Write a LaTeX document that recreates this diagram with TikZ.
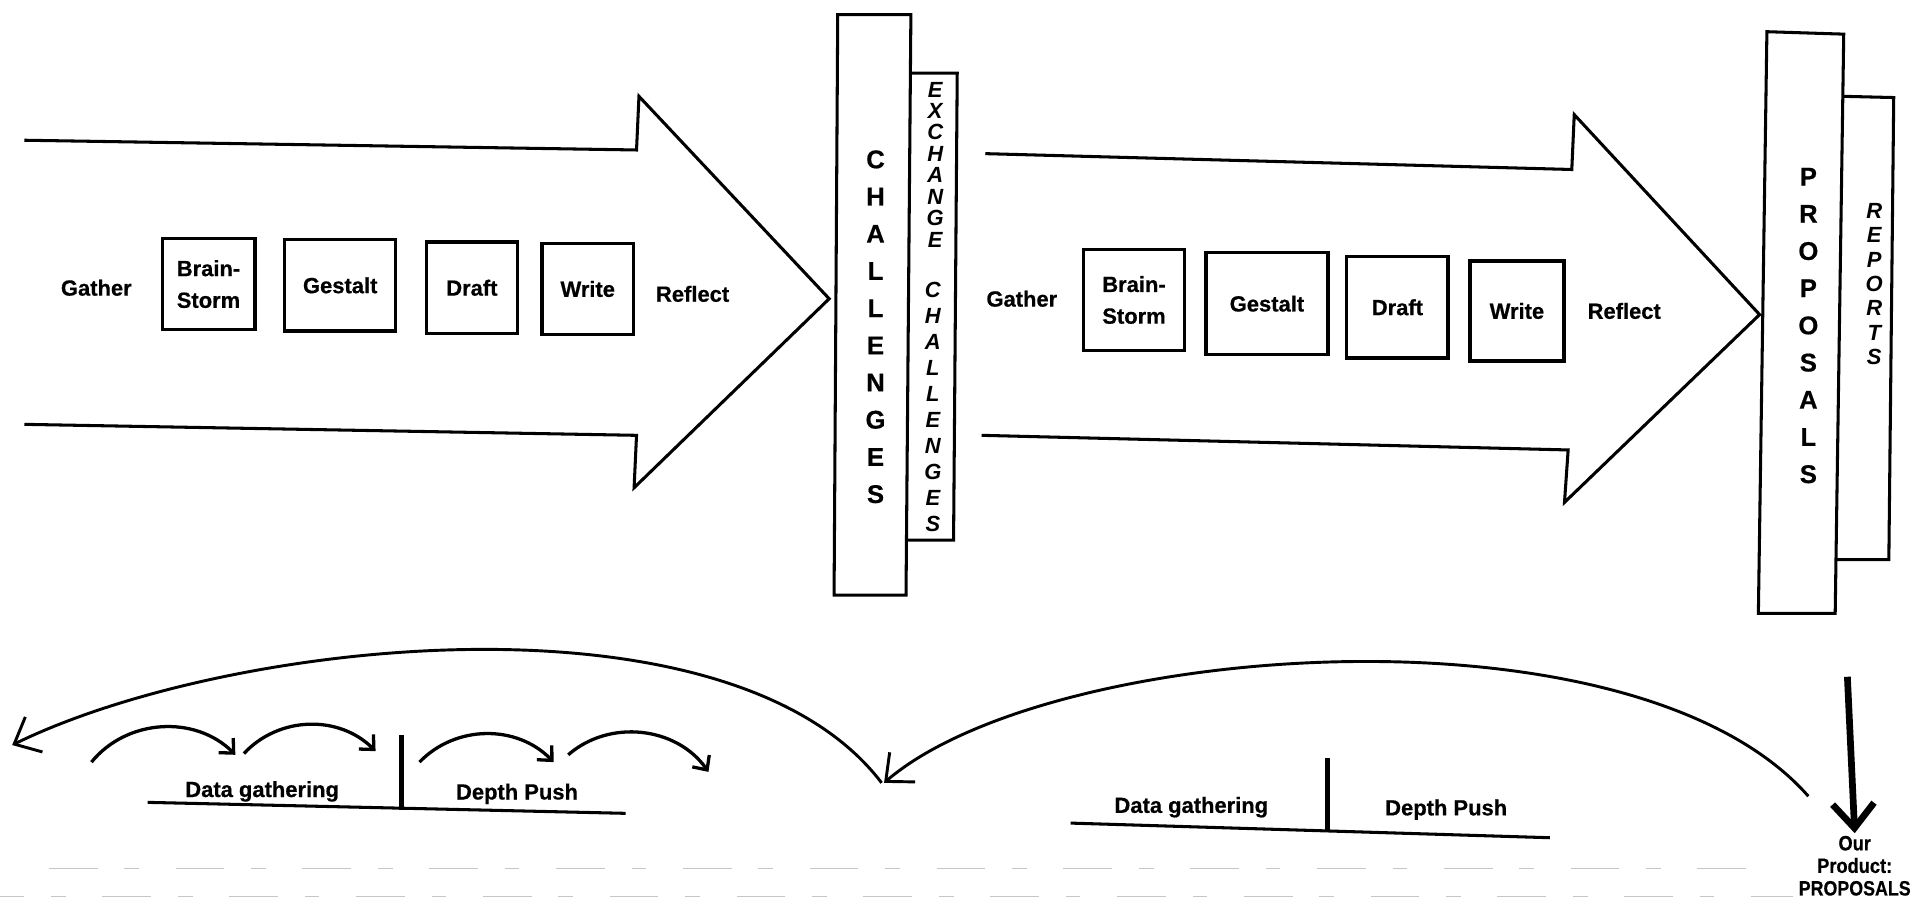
\documentclass[tikz,border=0pt]{standalone}
\usepackage{graphicx}
\usepackage{fontspec}
\setmainfont{Liberation Sans}[BoldFeatures={FakeBold=0.6}]
\usetikzlibrary{arrows.meta}
\newcommand\lblfont{\bfseries\fontsize{18}{26}\selectfont}
\newcommand\colfont{\bfseries\fontsize{21}{30.5}\selectfont}
\begin{document}
\begin{tikzpicture}[x=1pt,y=-1pt,
  outl/.style={line width=2.5pt, line join=miter},
  stage/.style={draw, line width=2.7pt, inner sep=0pt, font=\lblfont, align=center},
  lbl/.style={font=\lblfont, inner sep=0pt},
  vlet/.style={font=\colfont, align=center, inner sep=0pt},
  vit/.style={align=center, inner sep=0pt},
  bigarc/.style={line width=2.4pt, -{Straight Barb[length=18pt,width=32pt]}},
  smallarc/.style={line width=2.7pt, -{Straight Barb[length=9pt,width=17pt]}},
  base/.style={line width=2.5pt},
  bar/.style={line width=4.2pt},
  scan/.style={gray!45, line width=0.9pt, dash pattern=on 40pt off 22pt on 12pt off 30pt}
]
\useasboundingbox (0,0) rectangle (1568,741);

% ---------- left big arrow ----------
\draw[outl] (20,115) -- (522,123) -- (524,79) -- (680,245) -- (520,400) -- (522,357) -- (20,348);
\node[lbl] (g1) at (79,236) {Gather};
\node[stage, minimum width=76pt, minimum height=75pt] (bs1) at (171,233) {Brain-\\Storm};
\node[stage, minimum width=91pt, minimum height=75pt] (ge1) at (279,234) {Gestalt};
\node[stage, minimum width=75pt, minimum height=75pt] (dr1) at (387,236) {Draft};
\node[stage, minimum width=75pt, minimum height=75pt] (wr1) at (482,237) {Write};
\node[lbl] (rf1) at (568,241) {Reflect};

% ---------- CHALLENGES column ----------
\draw[outl] (687,12) -- (747,12) -- (743,488) -- (684,488) -- cycle;
\draw[outl] (746,60) -- (785,60) -- (782,443) -- (744,443);
\node[vlet] (chal) at (718,268) {C\\H\\A\\L\\L\\E\\N\\G\\E\\S};
\node[vit, font=\bfseries\itshape\fontsize{18}{17.6}\selectfont] (exch) at (767,135) {E\\X\\C\\H\\A\\N\\G\\E};
\node[vit, font=\bfseries\itshape\fontsize{18}{21.3}\selectfont] (exchal) at (765,334) {C\\H\\A\\L\\L\\E\\N\\G\\E\\S};

% ---------- right big arrow ----------
\draw[outl] (808,126) -- (1289,139) -- (1291,94) -- (1443,258) -- (1283,412) -- (1286,369) -- (805,357);
\node[lbl] (g2) at (838,245) {Gather};
\node[stage, minimum width=83pt, minimum height=83pt] (bs2) at (930,246) {Brain-\\Storm};
\node[stage, minimum width=100pt, minimum height=84pt] (ge2) at (1039,249) {Gestalt};
\node[stage, minimum width=83pt, minimum height=83pt] (dr2) at (1146,252) {Draft};
\node[stage, minimum width=77pt, minimum height=82pt] (wr2) at (1244,255) {Write};
\node[lbl] (rf2) at (1332,255) {Reflect};

% ---------- PROPOSALS column ----------
\draw[outl] (1449,26) -- (1512,28) -- (1505,503) -- (1442,503) -- cycle;
\draw[outl] (1512,79) -- (1553,80) -- (1549,459) -- (1506,459);
\node[vlet] (prop) at (1483,267) {P\\R\\O\\P\\O\\S\\A\\L\\S};
\node[vit, font=\bfseries\itshape\fontsize{18}{20}\selectfont] (rep) at (1537,233) {R\\E\\P\\O\\R\\T\\S};

% ---------- bottom left ----------
\coordinate (la0) at (723,642);
\coordinate (la1) at (10,611);
\draw[bigarc] (la0) .. controls (600,480) and (190,523) .. (la1);
\coordinate (s1a) at (75,625);  \coordinate (s1b) at (193,619);
\coordinate (s2a) at (200,618); \coordinate (s2b) at (308,616);
\coordinate (s3a) at (344,625); \coordinate (s3b) at (454,625);
\coordinate (s4a) at (466,619); \coordinate (s4b) at (581,633);
\draw[smallarc] (s1a) to[bend left=48] (s1b);
\draw[smallarc] (s2a) to[bend left=46] (s2b);
\draw[smallarc] (s3a) to[bend left=46] (s3b);
\draw[smallarc] (s4a) to[bend left=48] (s4b);
\coordinate (bl0) at (121,658); \coordinate (bl1) at (513,667);
\draw[base] (bl0) -- (bl1);
\coordinate (vb0) at (329.5,603); \coordinate (vb1) at (329.5,664);
\draw[bar] (vb0) -- (vb1);
\node[lbl] (dg1) at (215,649) {Data gathering};
\node[lbl] (dp1) at (424,651) {Depth Push};

% ---------- bottom right ----------
\coordinate (ra0) at (1483,653);
\coordinate (ra1) at (725,642);
\draw[bigarc] (ra0) .. controls (1340,490) and (860,526) .. (ra1);
\coordinate (br0) at (878,675); \coordinate (br1) at (1271,687);
\draw[base] (br0) -- (br1);
\coordinate (vr0) at (1089,622); \coordinate (vr1) at (1089,681);
\draw[bar] (vr0) -- (vr1);
\node[lbl] (dg2) at (977,662) {Data gathering};
\node[lbl] (dp2) at (1186,664) {Depth Push};

\node[font=\bfseries\fontsize{17}{18.5}\selectfont, align=center, inner sep=0pt] (prod) at (1521,710) {\scalebox{0.88}[1]{Our}\\\scalebox{0.88}[1]{Product:}\\\scalebox{0.86}[1]{PROPOSALS}};
\coordinate (dn0) at (1515,555);
\draw[line width=5.5pt, -{Straight Barb[length=20pt,width=34pt]}] (dn0) -- ([yshift=2pt]prod.north);

% ---------- faint scan lines ----------
\draw[scan] (40,712) -- (1450,712);
\draw[scan, dash phase=20pt] (0,735) -- (1470,735);
\end{tikzpicture}
\end{document}
